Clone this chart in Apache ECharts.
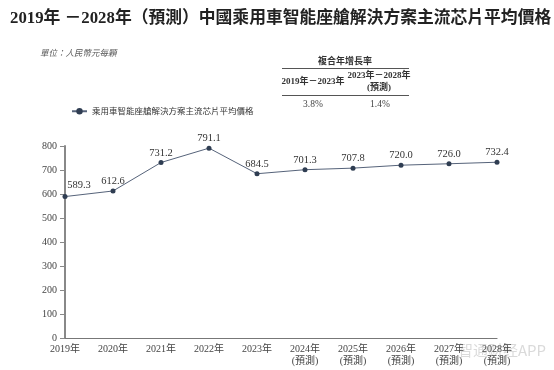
<!DOCTYPE html>
<html><head><meta charset="utf-8">
<script src="https://cdn.jsdelivr.net/npm/echarts@6/dist/echarts.min.js"></script>
<style>html,body{margin:0;padding:0;background:#fff}#c{width:554px;height:370px}</style>
</head><body><div id="c"></div>
<script>
const categories = ['2019年','2020年','2021年','2022年','2023年','2024年\n(預測)','2025年\n(預測)','2026年\n(預測)','2027年\n(預測)','2028年\n(預測)'];
const prices = [589.3, 612.6, 731.2, 791.1, 684.5, 701.3, 707.8, 720.0, 726.0, 732.4];
const seriesName = '乘用車智能座艙解決方案主流芯片平均價格';
const cagrPeriods = ['2019年－2023年', '2023年－2028年\n(預測)'];
const cagrValues = ['3.8%', '1.4%'];
const yTicks = [0, 800, 100];

const serif = '"Liberation Serif","Noto Sans CJK TC",serif';
const chart = echarts.init(document.getElementById('c'), null, {renderer:'canvas'});
chart.setOption({
  animation:false,
  backgroundColor:'#fff',
  title:{
    text:'2019年 －2028年（預測）中國乘用車智能座艙解決方案主流芯片平均價格',
    left:5, top:5,
    textStyle:{fontSize:16.8, fontWeight:'bold', color:'#222', fontFamily:'"Liberation Serif","Noto Sans CJK TC",serif'}
  },
  legend:{
    data:[seriesName], left:66, top:102, itemWidth:15, itemHeight:8, itemGap:5,
    textStyle:{fontSize:8.5, color:'#333', fontFamily:'"Noto Sans CJK TC",sans-serif'}
  },
  grid:{left:65, right:57, top:146, bottom:32, containLabel:false},
  xAxis:{
    type:'category', data:categories, boundaryGap:false,
    axisLine:{lineStyle:{color:'#777', width:1.2}},
    axisTick:{show:false},
    axisLabel:{fontSize:10, color:'#444', fontFamily:serif, lineHeight:12, margin:5, interval:0}
  },
  yAxis:{
    type:'value', min:yTicks[0], max:yTicks[1], interval:yTicks[2],
    axisLine:{show:true, lineStyle:{color:'#888', width:2}},
    axisTick:{show:true, length:5, lineStyle:{color:'#888', width:1}},
    splitLine:{show:false},
    axisLabel:{fontSize:10, color:'#444', fontFamily:serif, margin:8}
  },
  series:[{
    name:seriesName, type:'line',
    data:prices.map((v,i)=> i===0 ? {value:v, label:{offset:[14,-2]}} : v),
    symbol:'circle', symbolSize:5,
    lineStyle:{color:'#56637a', width:1},
    itemStyle:{color:'#2f3d52'},
    label:{show:true, position:'top', distance:2, formatter:p=>p.value.toFixed(1), fontSize:10.5, color:'#333', fontFamily:serif}
  }],
  graphic:[
    {type:'text', left:40, top:49, style:{text:'單位：人民幣元每顆', font:'italic 8.5px "Noto Sans CJK TC",sans-serif', fill:'#555'}},
    {type:'text', x:345, y:61, style:{text:'複合年增長率', font:'bold 9px "Noto Sans CJK TC",sans-serif', fill:'#333', align:'center', verticalAlign:'middle'}},
    {type:'line', shape:{x1:282, y1:68.5, x2:409, y2:68.5}, style:{stroke:'#555', lineWidth:1}},
    {type:'text', x:313, y:82, style:{text:cagrPeriods[0], font:'bold 9px "Liberation Serif","Noto Sans CJK TC",serif', fill:'#333', align:'center', verticalAlign:'middle'}},
    {type:'text', x:379, y:82, style:{text:cagrPeriods[1], font:'bold 9px "Liberation Serif","Noto Sans CJK TC",serif', fill:'#333', align:'center', verticalAlign:'middle', lineHeight:12}},
    {type:'line', shape:{x1:282, y1:95.5, x2:409, y2:95.5}, style:{stroke:'#555', lineWidth:1}},
    {type:'text', x:313, y:104, style:{text:cagrValues[0], font:'9.5px "Liberation Serif",serif', fill:'#444', align:'center', verticalAlign:'middle'}},
    {type:'text', x:380, y:104, style:{text:cagrValues[1], font:'9.5px "Liberation Serif",serif', fill:'#444', align:'center', verticalAlign:'middle'}},
    {type:'text', x:458, y:350, style:{text:'智通财经APP', font:'15px "Noto Sans CJK SC",sans-serif', fill:'rgba(150,150,150,0.35)', verticalAlign:'middle'}}
  ]
});
</script></body></html>
